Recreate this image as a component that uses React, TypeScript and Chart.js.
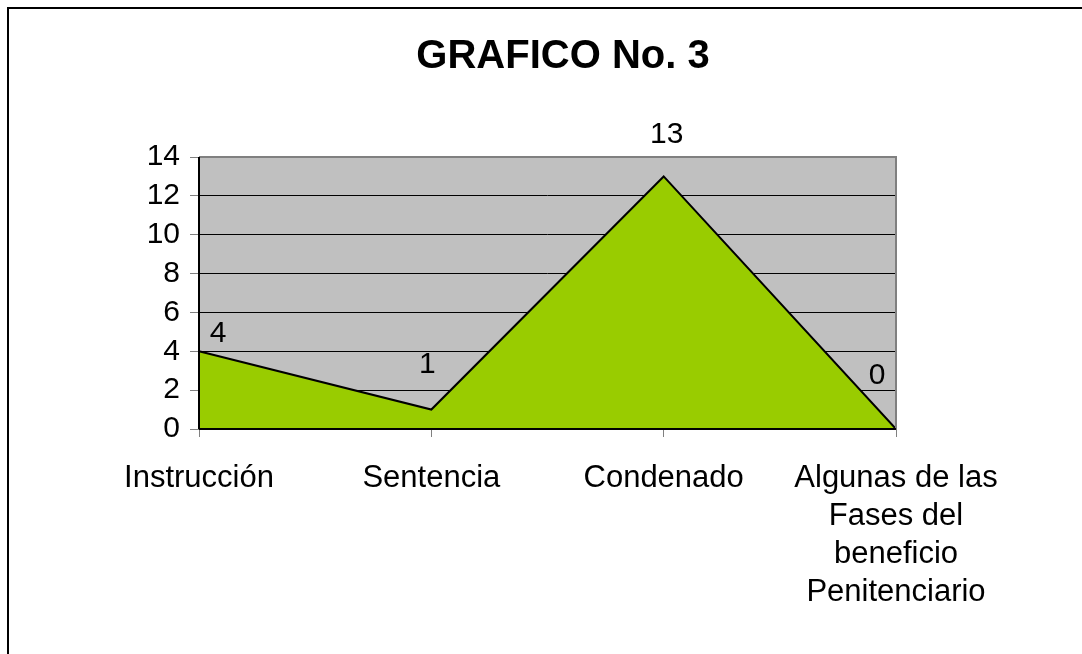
import React, { useEffect, useRef } from "react";
import { Chart, registerables } from "chart.js";

Chart.register(...registerables);

const categories: (string | string[])[] = [
  "Instrucción",
  "Sentencia",
  "Condenado",
  ["Algunas de las", "Fases del", "beneficio", "Penitenciario"],
];
const values = [4, 1, 13, 0];
const yTicks = [0, 2, 4, 6, 8, 10, 12, 14];
const titleText = "GRAFICO No. 3";

const FONT = "'Liberation Sans', Arial, sans-serif";
const labelOffsets = [
  [19, -18],
  [-4, -45],
  [3, -42],
  [-19, -53],
];

const plotPlugin = {
  id: "plotDecor",
  beforeDraw(chart: any) {
    const { ctx, chartArea: a } = chart;
    ctx.save();
    ctx.fillStyle = "#C0C0C0";
    ctx.fillRect(a.left, a.top, a.right - a.left, a.bottom - a.top);
    ctx.restore();
  },
  afterDatasetsDraw(chart: any) {
    const { ctx, chartArea: a } = chart;
    ctx.save();
    ctx.strokeStyle = "#808080";
    ctx.lineWidth = 2;
    ctx.beginPath();
    ctx.moveTo(a.left, a.top);
    ctx.lineTo(a.right, a.top);
    ctx.lineTo(a.right, a.bottom);
    ctx.stroke();
    ctx.strokeStyle = "#000";
    ctx.lineWidth = 2;
    ctx.beginPath();
    ctx.moveTo(a.left, a.top);
    ctx.lineTo(a.left, a.bottom);
    ctx.stroke();
    ctx.beginPath();
    ctx.moveTo(a.left, a.bottom);
    ctx.lineTo(a.right, a.bottom);
    ctx.stroke();
    const meta = chart.getDatasetMeta(0);
    ctx.fillStyle = "#000";
    ctx.font = `30px ${FONT}`;
    ctx.textAlign = "center";
    ctx.textBaseline = "middle";
    meta.data.forEach((pt: any, i: number) => {
      const off = labelOffsets[i] || [0, -20];
      ctx.fillText(String(values[i]), pt.x + off[0], pt.y + off[1]);
    });
    ctx.font = `bold 40px ${FONT}`;
    ctx.fillText(titleText, 563, 57);
    ctx.restore();
  },
};

export default function App() {
  const ref = useRef<HTMLCanvasElement | null>(null);
  useEffect(() => {
    if (!ref.current) return;
    const chart = new Chart(ref.current, {
      type: "line",
      data: {
        labels: categories,
        datasets: [
          {
            data: values,
            backgroundColor: "#99CC00",
            borderColor: "#000",
            borderWidth: 2,
            fill: "origin",
            tension: 0,
            pointRadius: 0,
          },
        ],
      },
      options: {
        responsive: false,
        animation: false,
        layout: { padding: { left: 0, top: 157, right: 186, bottom: 0 } },
        plugins: {
          legend: { display: false },
          title: { display: false },
          tooltip: { enabled: false },
        },
        scales: {
          x: {
            offset: false,
            grid: {
              drawOnChartArea: false,
              drawTicks: true,
              tickLength: 8,
              color: "#808080",
            },
            border: { display: false },
            ticks: {
              color: "#000",
              font: { family: FONT, size: 31, lineHeight: 1.226 },
              padding: 22,
              maxRotation: 0,
              autoSkip: false,
            },
            afterFit(s: any) {
              s.height = 654 - 429;
            },
          },
          y: {
            min: 0,
            max: 14,
            afterBuildTicks(s: any) {
              s.ticks = yTicks.map((v) => ({ value: v }));
            },
            grid: {
              color: "#000",
              lineWidth: 1,
              drawTicks: true,
              tickLength: 9,
              tickColor: "#808080",
            },
            border: { display: false },
            ticks: {
              color: "#000",
              font: { family: FONT, size: 30, lineHeight: 1 },
              padding: 10,
              autoSkip: false,
            },
            afterFit(s: any) {
              s.width = 199;
            },
          },
        },
      },
      plugins: [plotPlugin],
    });
    return () => chart.destroy();
  }, []);
  return (
    <div style={{ position: "fixed", left: 0, top: 0, width: 1082, height: 654, background: "#fff", overflow: "hidden" }}>
      <canvas ref={ref} width={1082} height={654} style={{ position: "absolute", left: 0, top: 0 }} />
      <div
        style={{
          position: "absolute",
          left: 7,
          top: 7,
          width: 1200,
          height: 800,
          borderTop: "2px solid #000",
          borderLeft: "2px solid #000",
          pointerEvents: "none",
        }}
      />
    </div>
  );
}
